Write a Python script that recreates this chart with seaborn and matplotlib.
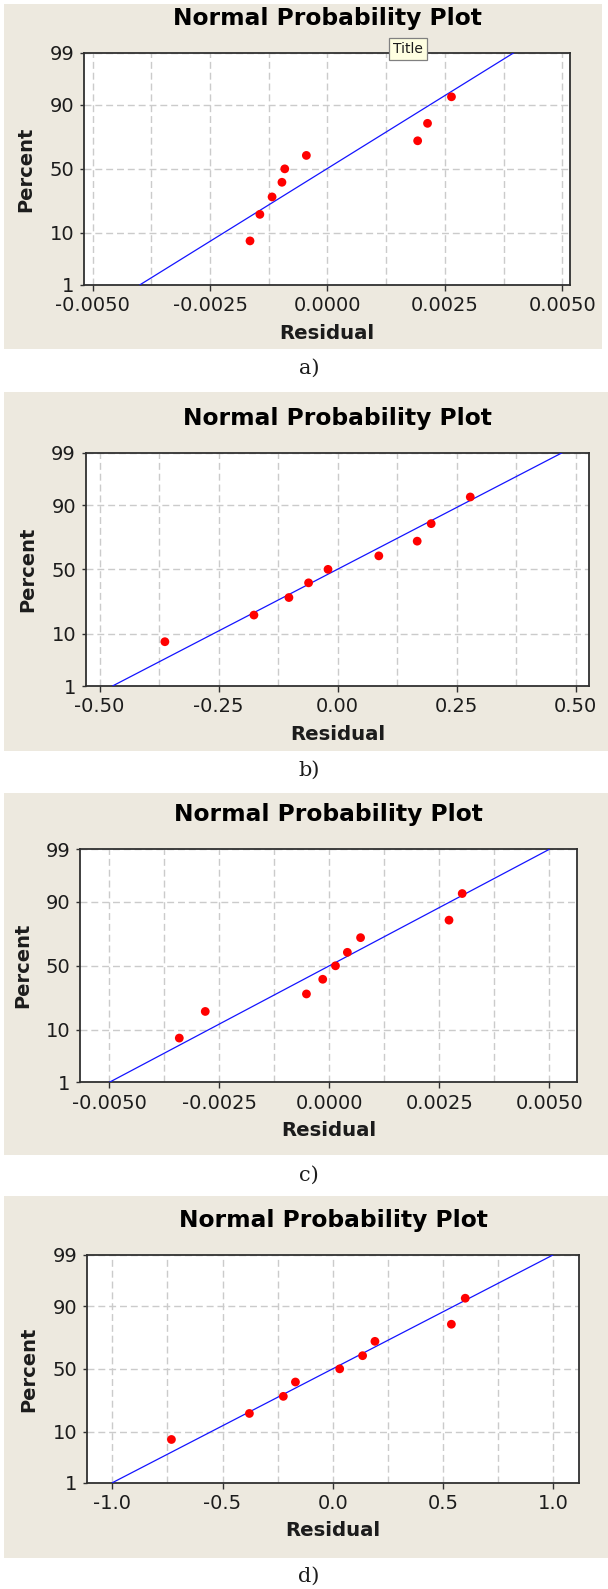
import matplotlib
matplotlib.use("Agg")
import matplotlib.pyplot as plt
import seaborn as sns
import pandas as pd
from statistics import NormalDist
from matplotlib.patches import Rectangle

# ---------------- data ----------------
percent = [7.45, 18.1, 28.7, 39.4, 50.0, 60.6, 71.3, 81.9, 92.55]

resid_a = [-0.00165, -0.00144, -0.00118, -0.00097, -0.00091, -0.00045, 0.00192, 0.00213, 0.00264]
resid_b = [-0.363, -0.176, -0.1025, -0.0612, -0.0204, 0.0863, 0.1669, 0.1963, 0.2784]
resid_c = [-0.00341, -0.00282, -0.00052, -0.00015, 0.00014, 0.00041, 0.00071, 0.00272, 0.00302]
resid_d = [-0.732, -0.378, -0.224, -0.169, 0.032, 0.136, 0.192, 0.539, 0.602]

fit_pct = [1, 99]
fit_a = [-0.00400, 0.00397]
fit_b = [-0.473, 0.4715]
fit_c = [-0.0050, 0.0050]
fit_d = [-1.0, 1.0]

pct_ticks = [1, 10, 50, 90, 99]
xticks_a = [-0.0050, -0.0025, 0.0, 0.0025, 0.0050]
xticks_b = [-0.50, -0.25, 0.0, 0.25, 0.50]
xticks_c = [-0.0050, -0.0025, 0.0, 0.0025, 0.0050]
xticks_d = [-1.0, -0.5, 0.0, 0.5, 1.0]

panel_labels = ["a)", "b)", "c)", "d)"]
title_text = "Normal Probability Plot"
xlabel_text = "Residual"
ylabel_text = "Percent"

# ---------------- style ----------------
sns.set_style("white")
plt.rcParams["font.family"] = ["DejaVu Sans"]
plt.rcParams["axes.unicode_minus"] = False

W, H = 608, 1589
BEIGE = "#EDE9DF"
GRID = "#CBCBCB"
TXT = "#1c1c1c"

fig = plt.figure(figsize=(W / 100, H / 100), dpi=100)
fig.patch.set_facecolor("white")

nd = NormalDist()


def probit(p):
    return nd.inv_cdf(p / 100.0)


def frect(x0, y0, x1, y1):
    return [x0 / W, 1 - y1 / H, (x1 - x0) / W, (y1 - y0) / H]


panels = [
    dict(res=resid_a, fit=fit_a, ticks=xticks_a, fmt="{:.4f}", xlim=(-0.005185, 0.005164),
         bg=(4, 4, 602, 349), ax=(84, 52.7, 570, 285), lab_y=368),
    dict(res=resid_b, fit=fit_b, ticks=xticks_b, fmt="{:.2f}", xlim=(-0.5287, 0.5286),
         bg=(4, 391.7, 608, 750.5), ax=(86, 452.7, 589.4, 686), lab_y=770),
    dict(res=resid_c, fit=fit_c, ticks=xticks_c, fmt="{:.4f}", xlim=(-0.00566, 0.00562),
         bg=(4, 792.7, 608, 1154.5), ax=(80.3, 849.3, 576.6, 1082.3), lab_y=1175),
    dict(res=resid_d, fit=fit_d, ticks=xticks_d, fmt="{:.1f}", xlim=(-1.1144, 1.118),
         bg=(4, 1196, 608, 1557.5), ax=(87.2, 1255, 578.9, 1482.7), lab_y=1576),
]

for i, pn in enumerate(panels):
    bx0, by0, bx1, by1 = pn["bg"]
    fig.patches.append(Rectangle((bx0 / W, 1 - by1 / H), (bx1 - bx0) / W, (by1 - by0) / H,
                                 transform=fig.transFigure, facecolor=BEIGE,
                                 edgecolor="none", zorder=-5))
    x0, y0, x1, y1 = pn["ax"]
    wpx, hpx = x1 - x0, y1 - y0
    ax = fig.add_axes(frect(x0, y0, x1, y1))
    ax.set_facecolor("white")

    df = pd.DataFrame({"Residual": pn["res"], "z": [probit(p) for p in percent]})
    fit_df = pd.DataFrame({"x": pn["fit"], "z": [probit(p) for p in fit_pct]})

    sns.lineplot(data=fit_df, x="x", y="z", ax=ax, color="#1414FF", lw=0.9,
                 estimator=None, sort=False, zorder=3)
    sns.scatterplot(data=df, x="Residual", y="z", ax=ax, color="#FF0000", s=40,
                    edgecolor="none", linewidth=0, zorder=4)

    ax.set_xlim(*pn["xlim"])
    ax.set_ylim(probit(1), probit(99))

    ticks = pn["ticks"]
    step = ticks[1] - ticks[0]
    ax.set_xticks(ticks)
    ax.set_xticklabels([pn["fmt"].format(t) for t in ticks])
    ax.set_xticks([t + step / 2 for t in ticks[:-1]], minor=True)
    ax.set_yticks([probit(p) for p in pct_ticks])
    ax.set_yticklabels([str(p) for p in pct_ticks])

    ax.grid(True, which="both", axis="x", color=GRID, lw=1.0, ls=(0, (5, 2.8)), zorder=1)
    ax.grid(True, which="major", axis="y", color=GRID, lw=1.0, ls=(0, (5, 2.8)), zorder=1)
    ax.set_axisbelow(True)

    ax.tick_params(axis="x", which="major", direction="out", length=4.3, width=1.0,
                   pad=3.8, labelsize=14, colors="#303030", labelcolor=TXT, bottom=True)
    ax.tick_params(axis="x", which="minor", length=0, bottom=False)
    ax.tick_params(axis="y", which="major", direction="out", length=2.9, width=1.0,
                   pad=4.3, labelsize=14, colors="#303030", labelcolor=TXT, left=True)
    for sp in ax.spines.values():
        sp.set_visible(True)
        sp.set_color("#303030")
        sp.set_linewidth(1.3)

    ax.set_title(title_text, fontsize=16.8, fontweight="bold", color="black",
                 y=1 + 28 / hpx, va="baseline", pad=0)

    ax.set_xlabel(xlabel_text, fontsize=14.2, fontweight="bold", color=TXT)
    ax.xaxis.label.set_va("baseline")
    ax.xaxis.set_label_coords(0.5, -53.7 / hpx)

    ax.set_ylabel(ylabel_text, fontsize=14, fontweight="bold", color=TXT)
    ax.yaxis.label.set_rotation_mode("default")
    ax.yaxis.label.set_va("center")
    ax.yaxis.label.set_ha("center")
    ax.yaxis.set_label_coords(-58 / wpx, 0.5)

    fig.text(309 / W, 1 - pn["lab_y"] / H, panel_labels[i], ha="center", va="center",
             fontsize=15, family="DejaVu Serif", color=TXT)

# tooltip visible in the first panel
fig.text(408 / W, 1 - 49 / H, "Title", ha="center", va="center", fontsize=10,
         color=TXT, zorder=20,
         bbox=dict(boxstyle="square,pad=0.3", fc="#FFFFE1", ec="#808080", lw=0.9))

fig.savefig("out.png", dpi=100, facecolor=fig.get_facecolor())
